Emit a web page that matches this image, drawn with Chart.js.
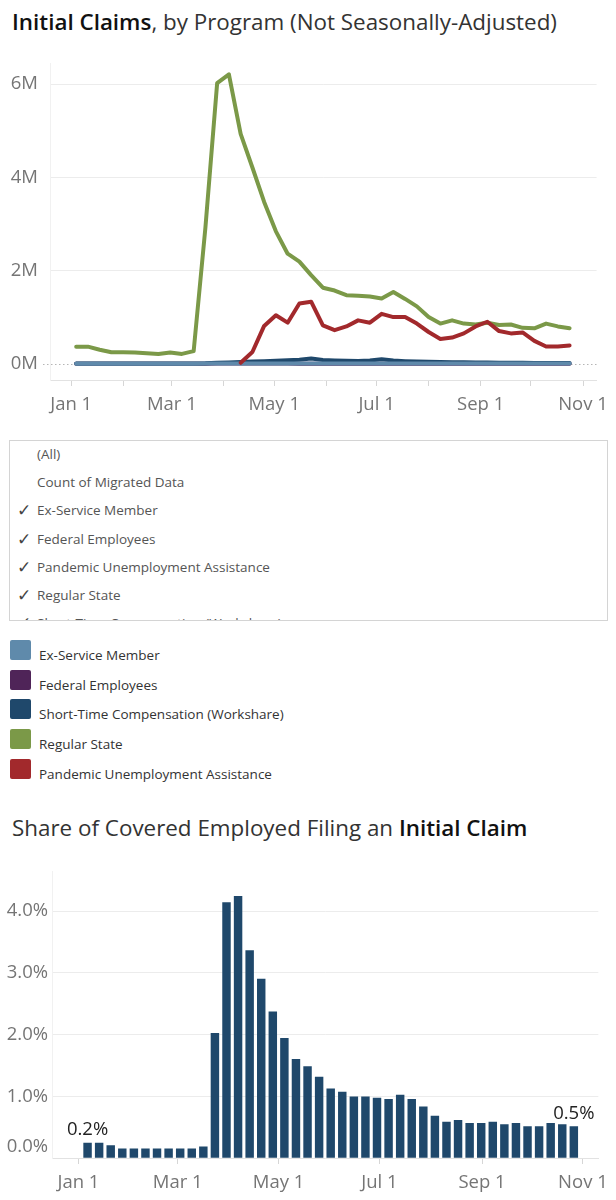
<!DOCTYPE html>
<html>
<head>
<meta charset="utf-8">
<title>Initial Claims</title>
<script src="https://cdn.jsdelivr.net/npm/chart.js@4.4.1/dist/chart.umd.min.js"></script>
<style>
    html, body { margin: 0; padding: 0; background: #fff; }
    body { width: 616px; height: 1200px; position: relative; overflow: hidden; font-family: 'Open Sans', sans-serif; }
    .title { position: absolute; left: 12px; font-size: 22.4px; line-height: 26px; color: #333; white-space: nowrap; }
    .title b { font-weight: 600; color: #111; }
    #title1 { top: 9px; }
    #title2 { top: 815px; }
    #lineCanvas { position: absolute; left: 0; top: 40px; }
    #barCanvas { position: absolute; left: 0; top: 850px; }
    #filterBox { position: absolute; left: 9px; top: 440px; width: 597px; height: 179px; border: 1px solid #d4d4d4; overflow: hidden; }
    .fitem { position: absolute; left: 27px; font-size: 13.5px; line-height: 20px; color: #555; white-space: nowrap; }
    .fcheck { position: absolute; left: 7px; font-size: 17px; line-height: 20px; color: #444; font-family: 'DejaVu Sans', sans-serif; }
    .lsw { position: absolute; left: 10px; width: 21px; height: 20px; border-radius: 2px; }
    .ltxt { position: absolute; left: 39px; font-size: 13.5px; line-height: 20px; color: #333; white-space: nowrap; }
</style>
</head>
<body>
<div class="title" id="title1"><b>Initial Claims</b>, by Program (Not Seasonally-Adjusted)</div>
<canvas id="lineCanvas" width="616" height="390"></canvas>
<div id="filterBox"></div>
<div id="legend"></div>
<div class="title" id="title2">Share of Covered Employed Filing an <b>Initial Claim</b></div>
<canvas id="barCanvas" width="616" height="350"></canvas>

<script>
// ---------- dados (semana terminada em) ----------
const weekEnding = [
    '2020-01-04', '2020-01-11', '2020-01-18', '2020-01-25',
    '2020-02-01', '2020-02-08', '2020-02-15', '2020-02-22', '2020-02-29',
    '2020-03-07', '2020-03-14', '2020-03-21', '2020-03-28',
    '2020-04-04', '2020-04-11', '2020-04-18', '2020-04-25',
    '2020-05-02', '2020-05-09', '2020-05-16', '2020-05-23', '2020-05-30',
    '2020-06-06', '2020-06-13', '2020-06-20', '2020-06-27',
    '2020-07-04', '2020-07-11', '2020-07-18', '2020-07-25',
    '2020-08-01', '2020-08-08', '2020-08-15', '2020-08-22', '2020-08-29',
    '2020-09-05', '2020-09-12', '2020-09-19', '2020-09-26',
    '2020-10-03', '2020-10-10', '2020-10-17', '2020-10-24'
];

// claims, thousands
const exServiceMember = [1.2, 1.1, 1.0, 1.0, 1.0, 0.9, 0.9, 0.9, 0.9, 0.9, 1.0,
    2.5, 5.0, 6.0, 5.5, 5.0, 4.5, 4.0, 3.8, 3.5, 3.3,
    3.0, 3.0, 2.9, 2.8, 2.8, 2.7, 2.8, 2.7, 2.6, 2.5,
    2.4, 2.4, 2.3, 2.3, 2.2, 2.2, 2.2, 2.1, 2.1, 2.1, 2.0, 2.0];
const federalEmployees = [0.7, 0.7, 0.7, 0.7, 0.7, 0.7, 0.7, 0.7, 0.7, 0.7, 0.7,
    1.2, 2.0, 2.3, 2.0, 1.8, 1.6, 1.5, 1.4, 1.3, 1.2,
    1.2, 1.1, 1.1, 1.0, 1.0, 1.0, 1.0, 1.0, 0.9, 0.9,
    0.9, 0.9, 0.9, 0.9, 0.9, 0.9, 0.8, 0.8, 0.8, 0.8, 0.8, 0.8];
const shortTimeComp = [3, 3, 3, 3, 3, 3, 3, 3, 3, 3, 4,
    8, 20, 28, 35, 45, 55, 65, 75, 85, 110,
    80, 70, 65, 60, 70, 95, 70, 55, 45, 40,
    35, 30, 30, 28, 25, 22, 20, 18, 17, 15, 14, 13];
const regularState = [365, 365, 300, 245, 245, 240, 225, 210, 240, 210, 270,
    2920, 6020, 6210, 4930, 4210, 3470, 2840, 2360, 2190, 1900,
    1630, 1570, 1470, 1460, 1440, 1400, 1540, 1390, 1230, 1000,
    860, 930, 860, 840, 880, 830, 840, 770, 760, 860, 800, 760];
const pandemicAssistance = [null, null, null, null, null, null, null, null, null, null, null, null, null, null,
    20, 250, 810, 1040, 880, 1290, 1330, 820, 720, 800,
    930, 880, 1070, 1000, 1000, 860, 680, 530, 560, 650,
    800, 900, 700, 650, 670, 490, 370, 370, 390];

// share of covered employment, %
const shareOfCovered = [0.24, 0.24, 0.20, 0.15, 0.15, 0.15, 0.15, 0.15, 0.15, 0.15, 0.18,
    2.02, 4.14, 4.24, 3.36, 2.90, 2.37, 1.94, 1.60, 1.48, 1.31,
    1.12, 1.07, 0.99, 0.99, 0.97, 0.95, 1.02, 0.95, 0.83, 0.68,
    0.58, 0.61, 0.56, 0.56, 0.58, 0.54, 0.56, 0.51, 0.51, 0.56, 0.54, 0.51];
const labelledBars = [0, shareOfCovered.length - 1];

// legend order
const seriesNames = ['Ex-Service Member', 'Federal Employees', 'Short-Time Compensation (Workshare)', 'Regular State', 'Pandemic Unemployment Assistance'];
const seriesColors = ['#5f8aab', '#4f2458', '#1f486b', '#7b9948', '#a2292c'];
const seriesValues = [exServiceMember, federalEmployees, shortTimeComp, regularState, pandemicAssistance];
const drawOrder = [2, 4, 3, 1, 0]; // menor = por cima

const filterItems = ['(All)', 'Count of Migrated Data', 'Ex-Service Member', 'Federal Employees',
    'Pandemic Unemployment Assistance', 'Regular State', 'Short-Time Compensation (Workshare)'];
const filterChecked = [false, false, true, true, true, true, true];

const monthStarts = ['2020-01-01', '2020-02-01', '2020-03-01', '2020-04-01', '2020-05-01', '2020-06-01',
    '2020-07-01', '2020-08-01', '2020-09-01', '2020-10-01', '2020-11-01'];
const xTickLabels = { '2020-01-01': 'Jan 1', '2020-03-01': 'Mar 1', '2020-05-01': 'May 1',
    '2020-07-01': 'Jul 1', '2020-09-01': 'Sep 1', '2020-11-01': 'Nov 1' };
const claimTicks = [0, 2000, 4000, 6000];
const shareTicks = [0, 1, 2, 3, 4];

// ---------- helpers ----------
function dayOfYear(iso) {
    return (Date.parse(iso) - Date.parse('2020-01-01')) / 86400000;
}
const weekDays = weekEnding.map(dayOfYear);
const tickLabelByDay = {};
monthStarts.forEach(d => { tickLabelByDay[dayOfYear(d)] = xTickLabels[d] || ''; });

const FONT = "'Open Sans', sans-serif";
const TICK_COLOR = '#757575';
const TICK_SIZE = 18.5;

// ---------- filtro e legenda (HTML) ----------
const box = document.getElementById('filterBox');
filterItems.forEach((name, i) => {
    const top = 3 + i * 28.2;
    if (filterChecked[i]) {
        const c = document.createElement('div');
        c.className = 'fcheck';
        c.style.top = top + 'px';
        c.textContent = '\u2713';
        box.appendChild(c);
    }
    const t = document.createElement('div');
    t.className = 'fitem';
    t.style.top = top + 'px';
    t.textContent = name;
    box.appendChild(t);
});

const legend = document.getElementById('legend');
seriesNames.forEach((name, i) => {
    const top = 640 + i * 29.7;
    const sw = document.createElement('div');
    sw.className = 'lsw';
    sw.style.top = top + 'px';
    sw.style.background = seriesColors[i];
    legend.appendChild(sw);
    const t = document.createElement('div');
    t.className = 'ltxt';
    t.style.top = (top + 5) + 'px';
    t.textContent = name;
    legend.appendChild(t);
});

// ---------- plugins ----------
const zeroLine = {
    id: 'zeroLine',
    beforeDatasetsDraw(chart) {
        const y = Math.round(chart.scales.y.getPixelForValue(0)) + 0.5;
        const ctx = chart.ctx;
        ctx.save();
        ctx.strokeStyle = '#b5b5b5';
        ctx.lineWidth = 1;
        ctx.setLineDash([1.5, 2.5]);
        ctx.beginPath();
        ctx.moveTo(chart.chartArea.left - 7, y);
        ctx.lineTo(chart.chartArea.right, y);
        ctx.stroke();
        ctx.restore();
    }
};

const barValueLabels = {
    id: 'barValueLabels',
    afterDatasetsDraw(chart) {
        const meta = chart.getDatasetMeta(0);
        const ctx = chart.ctx;
        ctx.save();
        ctx.font = TICK_SIZE + 'px ' + FONT;
        ctx.fillStyle = '#222';
        ctx.textAlign = 'center';
        ctx.textBaseline = 'alphabetic';
        labelledBars.forEach(i => {
            const bar = meta.data[i];
            ctx.fillText(shareOfCovered[i].toFixed(1) + '%', bar.x, bar.y - 8);
        });
        ctx.restore();
    }
};

function monthTickAxis(min, max, labelledOnly, padding, height) {
    return {
        type: 'linear',
        min: min,
        max: max,
        offset: false,
        afterBuildTicks: function (scale) {
            const days = monthStarts.filter(d => !labelledOnly || xTickLabels[d]).map(dayOfYear);
            scale.ticks = days.map(v => ({ value: v }));
        },
        afterFit: function (scale) { scale.height = height; },
        ticks: {
            autoSkip: false,
            maxRotation: 0,
            padding: padding,
            color: TICK_COLOR,
            font: { family: FONT, size: TICK_SIZE },
            callback: function (value) { return tickLabelByDay[value] || ''; }
        },
        grid: {
            drawOnChartArea: false,
            drawTicks: true,
            tickLength: 6,
            color: '#d6d6d6',
            offset: false
        },
        border: { display: true, color: '#e2e2e2' }
    };
}

// ---------- gráfico 1: linhas ----------
new Chart(document.getElementById('lineCanvas'), {
    type: 'line',
    data: {
        datasets: seriesNames.map((name, s) => ({
            label: name,
            data: seriesValues[s].map((v, i) => ({ x: weekDays[i], y: v })),
            borderColor: seriesColors[s],
            backgroundColor: seriesColors[s],
            borderWidth: 4,
            borderJoinStyle: 'round',
            borderCapStyle: 'round',
            pointRadius: 0,
            tension: 0,
            order: drawOrder[s]
        }))
    },
    options: {
        responsive: false,
        animation: false,
        layout: { padding: { top: 16, right: 6, left: 0, bottom: 0 } },
        plugins: { legend: { display: false }, tooltip: { enabled: false } },
        scales: {
            x: monthTickAxis(-12.6, 313.1, false, 8, 50),
            y: {
                min: -350,
                max: 6450,
                afterBuildTicks: function (scale) {
                    scale.ticks = claimTicks.map(v => ({ value: v }));
                },
                afterFit: function (scale) { scale.width = 50; },
                ticks: {
                    padding: 12,
                    color: TICK_COLOR,
                    font: { family: FONT, size: TICK_SIZE },
                    callback: function (value) { return (value / 1000) + 'M'; }
                },
                grid: {
                    drawTicks: false,
                    color: function (c) { return c.tick && c.tick.value === 0 ? 'rgba(0,0,0,0)' : '#ececec'; }
                },
                border: { display: true, color: '#f1f1f1' }
            }
        }
    },
    plugins: [zeroLine]
});

// ---------- gráfico 2: barras ----------
const barShift = 2.5; // Tableau centra a barra um pouco depois do fim da semana

new Chart(document.getElementById('barCanvas'), {
    type: 'bar',
    data: {
        datasets: [{
            label: 'Share of Covered Employed Filing an Initial Claim',
            data: shareOfCovered.map((v, i) => ({ x: weekDays[i] + barShift, y: v })),
            backgroundColor: '#1f486b',
            borderWidth: 0,
            barThickness: 7.8
        }]
    },
    options: {
        responsive: false,
        animation: false,
        layout: { padding: { top: 21, right: 8, left: 0, bottom: 0 } },
        plugins: { legend: { display: false }, tooltip: { enabled: false } },
        scales: {
            x: monthTickAxis(-16.0, 314.3, true, 8, 42),
            y: {
                min: 0,
                max: 4.65,
                afterBuildTicks: function (scale) {
                    scale.ticks = shareTicks.map(v => ({ value: v }));
                },
                afterFit: function (scale) { scale.width = 52; },
                ticks: {
                    padding: 4,
                    color: TICK_COLOR,
                    font: { family: FONT, size: TICK_SIZE, lineHeight: 1.2 },
                    callback: function (value) {
                        const txt = value.toFixed(1) + '%';
                        return value === 0 ? [txt, ''] : txt;
                    }
                },
                grid: {
                    drawTicks: false,
                    color: function (c) { return c.tick && c.tick.value === 0 ? 'rgba(0,0,0,0)' : '#ececec'; }
                },
                border: { display: true, color: '#f1f1f1' }
            }
        }
    },
    plugins: [barValueLabels]
});
</script>
</body>
</html>
